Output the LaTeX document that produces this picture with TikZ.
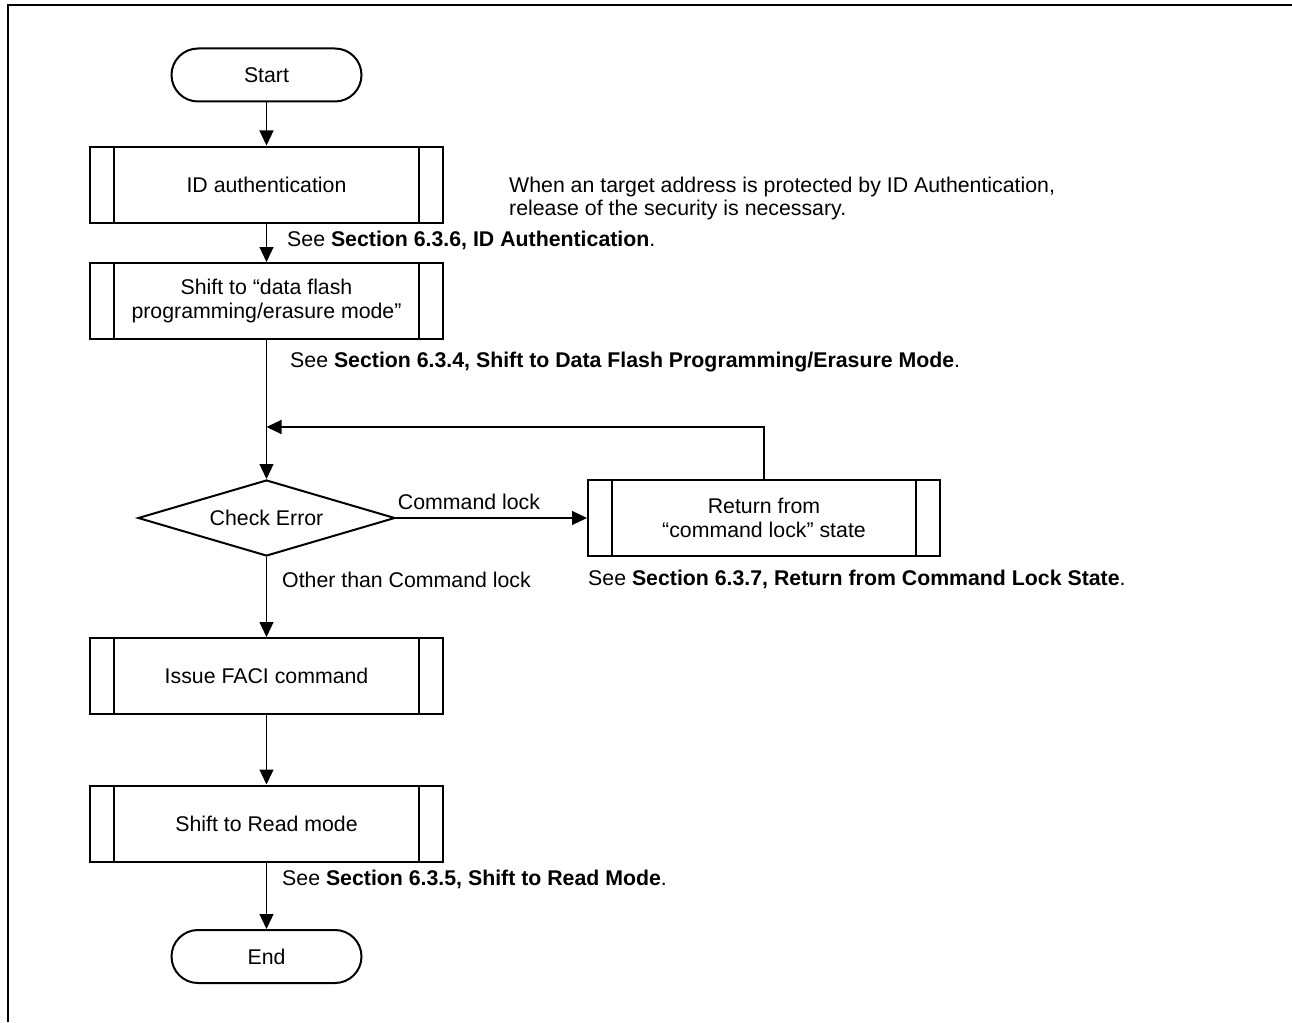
\documentclass[tikz,border=0pt]{standalone}
\usepackage{fontspec}
\setmainfont{Liberation Sans}
\usetikzlibrary{shapes.geometric,arrows.meta}
\tikzset{
  base/.style={font=\fontsize{21.3}{23.5}\selectfont, inner sep=0pt},
  term/.style={base, draw, line width=2pt, rounded corners=26.5pt, minimum width=190pt, minimum height=53pt},
  sub/.style={base, draw, line width=2pt, minimum width=353pt, minimum height=76pt, align=center,
    path picture={
      \draw[line width=2pt] ([xshift=24pt]path picture bounding box.north west) -- ([xshift=24pt]path picture bounding box.south west);
      \draw[line width=2pt] ([xshift=-24pt]path picture bounding box.north east) -- ([xshift=-24pt]path picture bounding box.south east);
    }},
  dec/.style={base, draw, line width=2pt, shape=diamond, aspect=3.38, minimum width=257pt, minimum height=76pt},
  lbl/.style={base, anchor=west, align=left},
  conn/.style={line width=1.2pt},
  arr/.style={conn, -{Triangle[length=15pt,width=14pt]}},
}
\begin{document}
\begin{tikzpicture}[x=1pt,y=-1pt]
\useasboundingbox (0,0) rectangle (1292,1022);
\draw[line width=2.6pt] (8,1022) -- (8,5) -- (1292,5);

\node[term] (start) at (266.5,75) {Start};
\node[sub] (id) at (266.5,184.5) {ID authentication};
\node[sub] (shift) at (266.5,301) {Shift to “data flash\\programming/erasure mode”};
\node[dec] (chk) at (266.5,518) {Check Error};
\node[sub, minimum width=352pt] (ret) at (764,518) {Return from\\“command lock” state};
\node[sub] (faci) at (266.5,676) {Issue FACI command};
\node[sub] (read) at (266.5,823.5) {Shift to Read mode};
\node[term] (end) at (266.5,956.5) {End};

\node[lbl] (note) at (509,198.5) {When an target address is protected by ID Authentication,\\release of the security is necessary.};
\node[lbl] (see1) at (287,240) {See \textbf{Section 6.3.6, ID Authentication}.};
\node[lbl] (see2) at (290,362) {See \textbf{Section 6.3.4, Shift to Data Flash Programming/Erasure Mode}.};
\node[base] (cl) at (469,501.5) {Command lock};
\node[lbl] (other) at (282,580) {Other than Command lock};
\node[lbl] (see3) at (588,579) {See \textbf{Section 6.3.7, Return from Command Lock State}.};
\node[lbl] (see4) at (282,879) {See \textbf{Section 6.3.5, Shift to Read Mode}.};

\coordinate (loop) at (266.5,427);

\draw[arr] (start) -- (id);
\draw[arr] (id) -- (shift);
\draw[arr] (shift) -- (chk);
\draw[arr] (ret.north) |- (loop);
\draw[arr] (chk.east) -- (ret.west);
\draw[arr] (chk.south) -- (faci.north);
\draw[arr] (faci) -- (read);
\draw[arr] (read) -- (end);
\end{tikzpicture}
\end{document}
